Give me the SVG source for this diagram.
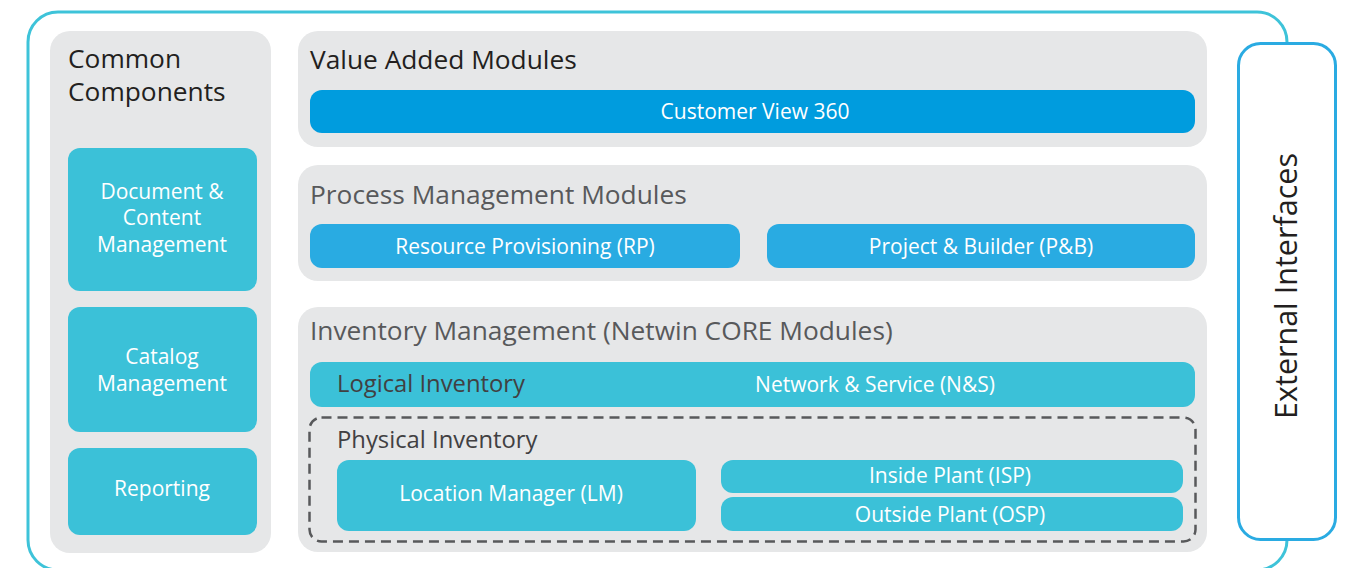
<svg xmlns="http://www.w3.org/2000/svg" width="1350" height="568" viewBox="0 0 1350 568">
<style>
text{font-family:"Open Sans","Liberation Sans",sans-serif}
.panel{fill:#e6e7e8}
.teal{fill:#3bc1d8}
.blue{fill:#29abe2}
.dblue{fill:#009cde}
.title{font-size:26.3px;fill:#231f20}
.gtitle{font-size:26.3px;fill:#58595b}
.lbl{font-size:21px;fill:#ffffff;text-anchor:middle}
.sub{font-size:23.8px;fill:#414042}
</style>
<rect id="outer" x="28" y="12" width="1259" height="558" rx="30" fill="none" stroke="#3ec3d9" stroke-width="3"/>
<g id="common">
<rect class="panel" x="50" y="31" width="221" height="522" rx="20"/>
<text class="title" x="68" y="68">Common</text>
<text class="title" x="68" y="101">Components</text>
</g>
<g id="doc">
<rect class="teal" x="68" y="148" width="189" height="143" rx="12"/>
<text class="lbl" x="162" y="199">Document &amp;</text>
<text class="lbl" x="162" y="225">Content</text>
<text class="lbl" x="162" y="252">Management</text>
</g>
<g id="catalog">
<rect class="teal" x="68" y="307" width="189" height="125" rx="12"/>
<text class="lbl" x="162" y="364">Catalog</text>
<text class="lbl" x="162" y="391">Management</text>
</g>
<g id="reporting">
<rect class="teal" x="68" y="448" width="189" height="87" rx="12"/>
<text class="lbl" x="162" y="496">Reporting</text>
</g>
<g id="value">
<rect class="panel" x="298" y="31" width="909" height="116" rx="20"/>
<text class="title" x="310" y="69">Value Added Modules</text>
</g>
<g id="cv360">
<rect class="dblue" x="310" y="90" width="885" height="43" rx="12"/>
<text class="lbl" x="755" y="119">Customer View 360</text>
</g>
<g id="process">
<rect class="panel" x="298" y="165" width="909" height="116" rx="20"/>
<text class="gtitle" x="310" y="204">Process Management Modules</text>
</g>
<g id="rp">
<rect class="blue" x="310" y="224" width="430" height="44" rx="12"/>
<text class="lbl" x="525" y="254">Resource Provisioning (RP)</text>
</g>
<g id="pb">
<rect class="blue" x="767" y="224" width="428" height="44" rx="12"/>
<text class="lbl" x="981" y="254">Project &amp; Builder (P&amp;B)</text>
</g>
<g id="inventory">
<rect class="panel" x="298" y="307" width="909" height="245" rx="20"/>
<text class="gtitle" x="310" y="340">Inventory Management (Netwin CORE Modules)</text>
</g>
<g id="logical">
<rect class="teal" x="310" y="362" width="885" height="45" rx="12"/>
<text class="sub" x="337" y="392">Logical Inventory</text>
<text class="lbl" x="875" y="392">Network &amp; Service (N&amp;S)</text>
</g>
<g id="physical">
<rect x="309.5" y="417.5" width="886" height="124" rx="12" fill="none" stroke="#58595b" stroke-width="2.5" stroke-dasharray="10 6"/>
<text class="sub" x="337" y="448">Physical Inventory</text>
</g>
<g id="lm">
<rect class="teal" x="337" y="460" width="359" height="71" rx="12"/>
<text class="lbl" x="511" y="501">Location Manager (LM)</text>
</g>
<g id="isp">
<rect class="teal" x="721" y="460" width="462" height="33" rx="12"/>
<text class="lbl" x="950" y="483">Inside Plant (ISP)</text>
</g>
<g id="osp">
<rect class="teal" x="721" y="497" width="462" height="34" rx="12"/>
<text class="lbl" x="950" y="522">Outside Plant (OSP)</text>
</g>
<g id="external">
<rect x="1238.5" y="43.5" width="97" height="496" rx="22" fill="#ffffff" stroke="#2aabe2" stroke-width="3"/>
<text transform="translate(1297,286) rotate(-90)" font-size="30.5" fill="#231f20" text-anchor="middle">External Interfaces</text>
</g>
<g id="connectors"></g>
</svg>
